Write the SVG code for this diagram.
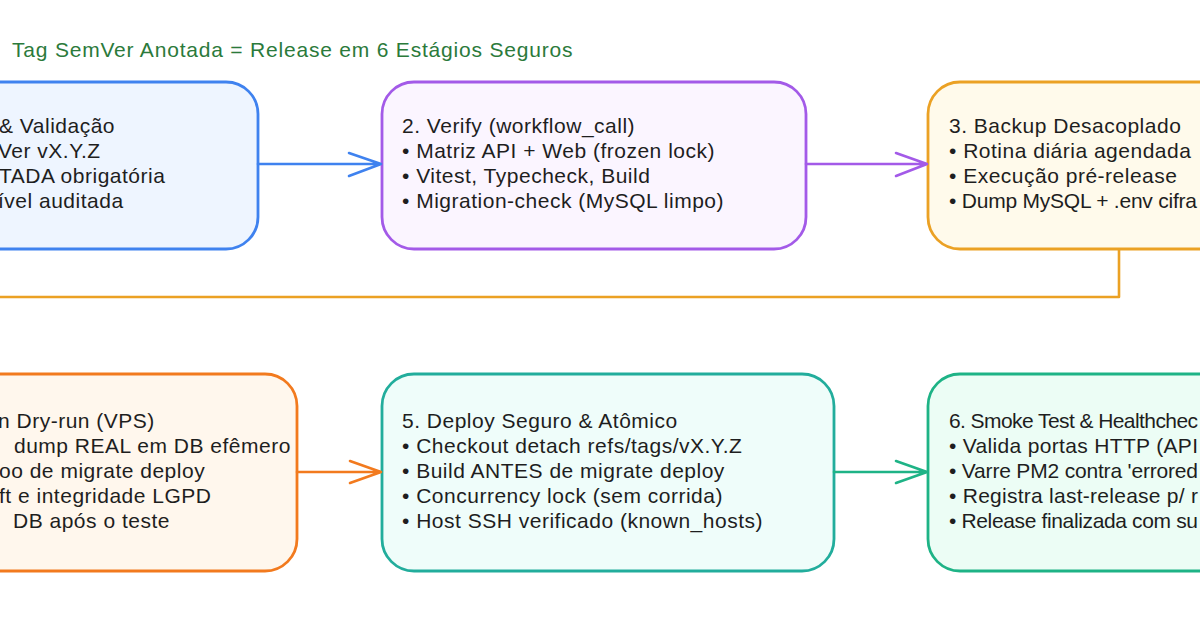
<svg xmlns="http://www.w3.org/2000/svg" width="1200" height="627" viewBox="0 0 1200 627">
<style>
.t{font-family:"Liberation Sans",Arial,sans-serif;font-size:21px;letter-spacing:0.5px;fill:#1e1e1e}
.fit{letter-spacing:0}
.title{font-family:"Liberation Sans",Arial,sans-serif;font-size:21px;letter-spacing:0.8px;fill:#2b7a3b}
.box{stroke-width:2.8}
.c{fill:none;stroke-width:2.6;stroke-linecap:round;stroke-linejoin:round}
</style>
<rect width="1200" height="627" fill="#ffffff"/>
<text class="title" x="12" y="57">Tag SemVer Anotada = Release em 6 Estágios Seguros</text>

<g id="node1">
<rect class="box" x="-200" y="82" width="458" height="167" rx="32" fill="#eef5ff" stroke="#3f82ef"/>
<text class="t" x="-1" y="133">&amp; Validação</text>
<text class="t" x="-2" y="158">Ver vX.Y.Z</text>
<text class="t" x="-1" y="183">TADA obrigatória</text>
<text class="t" x="-2" y="208">ível auditada</text>
</g>

<g id="node2">
<rect class="box" x="382" y="82" width="424" height="167" rx="32" fill="#fbf5ff" stroke="#a35ae8"/>
<text class="t" x="402" y="133">2. Verify (workflow_call)</text>
<text class="t" x="402" y="158">• Matriz API + Web (frozen lock)</text>
<text class="t" x="402" y="183">• Vitest, Typecheck, Build</text>
<text class="t" x="402" y="208">• Migration-check (MySQL limpo)</text>
</g>

<g id="node3">
<rect class="box" x="928" y="82" width="420" height="167" rx="32" fill="#fffaeb" stroke="#eba124"/>
<text class="t" x="949" y="133">3. Backup Desacoplado</text>
<text class="t" x="949" y="158">• Rotina diária agendada</text>
<text class="t" x="949" y="183">• Execução pré-release</text>
<text class="t fit" x="949" y="208" textLength="248" lengthAdjust="spacing">• Dump MySQL + .env cifra</text>
</g>

<g id="node4">
<rect class="box" x="-200" y="374" width="497" height="197" rx="32" fill="#fff7ed" stroke="#f27a1e"/>
<text class="t" x="-2" y="428">n Dry-run (VPS)</text>
<text class="t" x="14" y="453">dump REAL em DB efêmero</text>
<text class="t" x="-1" y="478">oo de migrate deploy</text>
<text class="t" x="-1" y="503">ft e integridade LGPD</text>
<text class="t" x="13" y="528">DB após o teste</text>
</g>

<g id="node5">
<rect class="box" x="382" y="374" width="452" height="197" rx="32" fill="#effdfa" stroke="#22ad9c"/>
<text class="t" x="402" y="428">5. Deploy Seguro &amp; Atômico</text>
<text class="t" x="402" y="453">• Checkout detach refs/tags/vX.Y.Z</text>
<text class="t" x="402" y="478">• Build ANTES de migrate deploy</text>
<text class="t" x="402" y="503">• Concurrency lock (sem corrida)</text>
<text class="t" x="402" y="528">• Host SSH verificado (known_hosts)</text>
</g>

<g id="node6">
<rect class="box" x="928" y="374" width="420" height="197" rx="32" fill="#ecfdf5" stroke="#1eb386"/>
<text class="t fit" x="949" y="428" textLength="249" lengthAdjust="spacing">6. Smoke Test &amp; Healthchec</text>
<text class="t fit" x="949" y="453" textLength="249" lengthAdjust="spacing">• Valida portas HTTP (API</text>
<text class="t fit" x="949" y="478" textLength="249" lengthAdjust="spacing">• Varre PM2 contra 'errored</text>
<text class="t fit" x="949" y="503" textLength="249" lengthAdjust="spacing">• Registra last-release p/ r</text>
<text class="t fit" x="949" y="528" textLength="249" lengthAdjust="spacing">• Release finalizada com su</text>
</g>

<g id="connectors">
<path class="c" stroke="#3f82ef" d="M258 164 L381 164 M349 153 L381 164 L349 176"/>
<path class="c" stroke="#a35ae8" d="M806 164 L927 164 M896 153 L927 164 L896 176"/>
<path class="c" stroke="#eba124" d="M1119 250 L1119 297 L-10 297"/>
<path class="c" stroke="#f27a1e" d="M297 472 L381 472 M350 461 L381 472 L350 483"/>
<path class="c" stroke="#1eb386" d="M834 472 L927 472 M896 461 L927 472 L896 483"/>
</g>
</svg>
